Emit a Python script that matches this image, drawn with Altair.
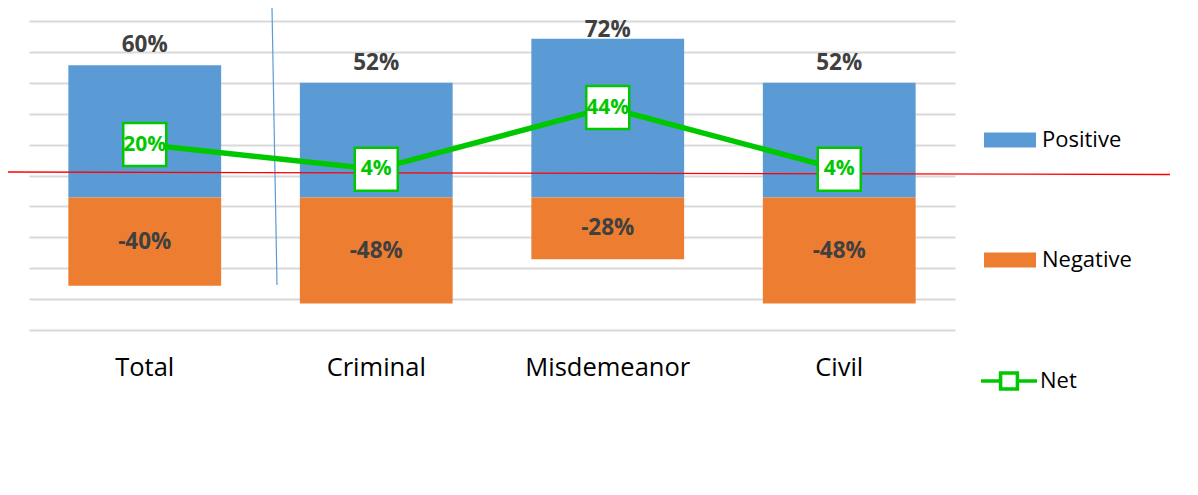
import altair as alt
import pandas as pd

categories = ["Total", "Criminal", "Misdemeanor", "Civil"]
positive = [0.60, 0.52, 0.72, 0.52]
negative = [-0.40, -0.48, -0.28, -0.48]
net = [0.20, 0.04, 0.44, 0.04]
series_names = ["Positive", "Negative"]
net_name = "Net"
grid_values = [-1.0, -0.8, -0.6, -0.4, -0.2, 0.0, 0.2, 0.4, 0.6, 0.8, 1.0]

bars_df = pd.DataFrame({
    "category": categories * 2,
    "series": [series_names[0]] * len(categories) + [series_names[1]] * len(categories),
    "value": positive + negative,
})
pos_df = bars_df[bars_df["series"] == "Positive"]
neg_df = bars_df[bars_df["series"] == "Negative"]
net_df = pd.DataFrame({"category": categories, "series": [net_name] * len(categories), "value": net})
one = pd.DataFrame({"k": [0]})

FONT = "Open Sans"
BLUE = "#5b9bd5"
ORANGE = "#ed7d31"
GREEN = "#00c800"
LABEL = "#404040"
PCT = "(datum.value < 0 ? '-' : '') + format(abs(datum.value), '.0%')"

x = alt.X(
    "category:N", sort=categories,
    scale=alt.Scale(paddingInner=0.34, paddingOuter=0.17),
    axis=alt.Axis(title=None, labelAngle=0, labelFontSize=25.5, labelFont=FONT,
                  labelColor="#000000", domain=False, ticks=False, labelPadding=25, grid=False),
)

bar_scale = alt.Scale(domain=[-0.6, 0.8], nice=False, zero=False)
net_scale = alt.Scale(domain=[-1.0, 1.0], nice=False, zero=False)

bars = alt.Chart(bars_df).mark_bar().encode(
    x=x,
    y=alt.Y("value:Q", stack="zero", scale=bar_scale, axis=None),
    color=alt.Color(
        "series:N", sort=series_names,
        scale=alt.Scale(domain=series_names, range=[BLUE, ORANGE]),
        legend=alt.Legend(
            title=None, orient="none", legendX=955, legendY=93, direction="vertical",
            symbolType="M-1,-0.2885H1V0.2885H-1Z", symbolSize=2704, symbolStrokeWidth=0,
            symbolOpacity=1, labelFont=FONT, labelFontSize=22, labelColor="#000000",
            labelOffset=6, rowPadding=83, padding=0,
        ),
    ),
)

# labels above the positive bars, kept inside the plot area like the original
pos_text = alt.Chart(pos_df).transform_calculate(
    label=PCT, ypos="min(datum.value, 0.67)"
).mark_text(
    font=FONT, fontSize=22.5, fontWeight="bold", color=LABEL, baseline="middle", dy=-20
).encode(
    x=alt.X("category:N", sort=categories),
    y=alt.Y("ypos:Q", scale=bar_scale, axis=None),
    text="label:N",
)

neg_text = alt.Chart(neg_df).transform_calculate(
    mid="datum.value / 2", label=PCT
).mark_text(
    font=FONT, fontSize=22.5, fontWeight="bold", color=LABEL, baseline="middle"
).encode(
    x=alt.X("category:N", sort=categories),
    y=alt.Y("mid:Q", scale=bar_scale, axis=None),
    text="label:N",
)

net_line = alt.Chart(net_df).mark_line(strokeWidth=5.5).encode(
    x=alt.X("category:N", sort=categories),
    y=alt.Y("value:Q", scale=net_scale,
            axis=alt.Axis(grid=True, values=grid_values, labels=False, ticks=False,
                          domain=False, title=None, gridColor="#d9d9d9", gridWidth=2)),
    stroke=alt.Stroke(
        "series:N",
        scale=alt.Scale(domain=[net_name], range=[GREEN]),
        legend=alt.Legend(
            title=None, orient="none", legendX=950, legendY=330,
            symbolType="M-1,0H-0.3M0.3,0H1M-0.3,-0.29H0.3V0.29H-0.3Z",
            symbolSize=3136, symbolFillColor="white", symbolStrokeWidth=3.5,
            labelFont=FONT, labelFontSize=22, labelColor="#000000", labelOffset=1, padding=0,
        ),
    ),
)

net_marks = alt.Chart(net_df).mark_point(
    shape="square", size=1849, filled=True, fill="white", stroke=GREEN, strokeWidth=2.5, opacity=1
).encode(
    x=alt.X("category:N", sort=categories),
    y=alt.Y("value:Q", scale=net_scale, axis=None),
)

net_text = alt.Chart(net_df).transform_calculate(label=PCT).mark_text(
    font=FONT, fontSize=21, fontWeight="bold", color=GREEN, baseline="middle"
).encode(
    x=alt.X("category:N", sort=categories),
    y=alt.Y("value:Q", scale=net_scale, axis=None),
    text="label:N",
)

red_line = alt.Chart(one).mark_rule(color="#ff0000", strokeWidth=1.3).encode(
    x=alt.value(-21), x2=alt.value(1141), y=alt.value(151), y2=alt.value(153.5)
)

blue_line = alt.Chart(one).mark_rule(color="#5b9bd5", strokeWidth=1.2).encode(
    x=alt.value(243), x2=alt.value(248), y=alt.value(-13), y2=alt.value(264)
)

chart = alt.layer(
    bars, pos_text, neg_text, blue_line, net_line, red_line, net_marks, net_text
).resolve_scale(
    y="independent", color="independent", stroke="independent"
).properties(
    width=926, height=309,
    padding={"left": 21, "top": 13, "right": 235, "bottom": 157},
    autosize=alt.AutoSizeParams(type="none"),
).configure_view(stroke=None)

chart.save("out.html", embed_options={"renderer": "svg", "actions": False})
